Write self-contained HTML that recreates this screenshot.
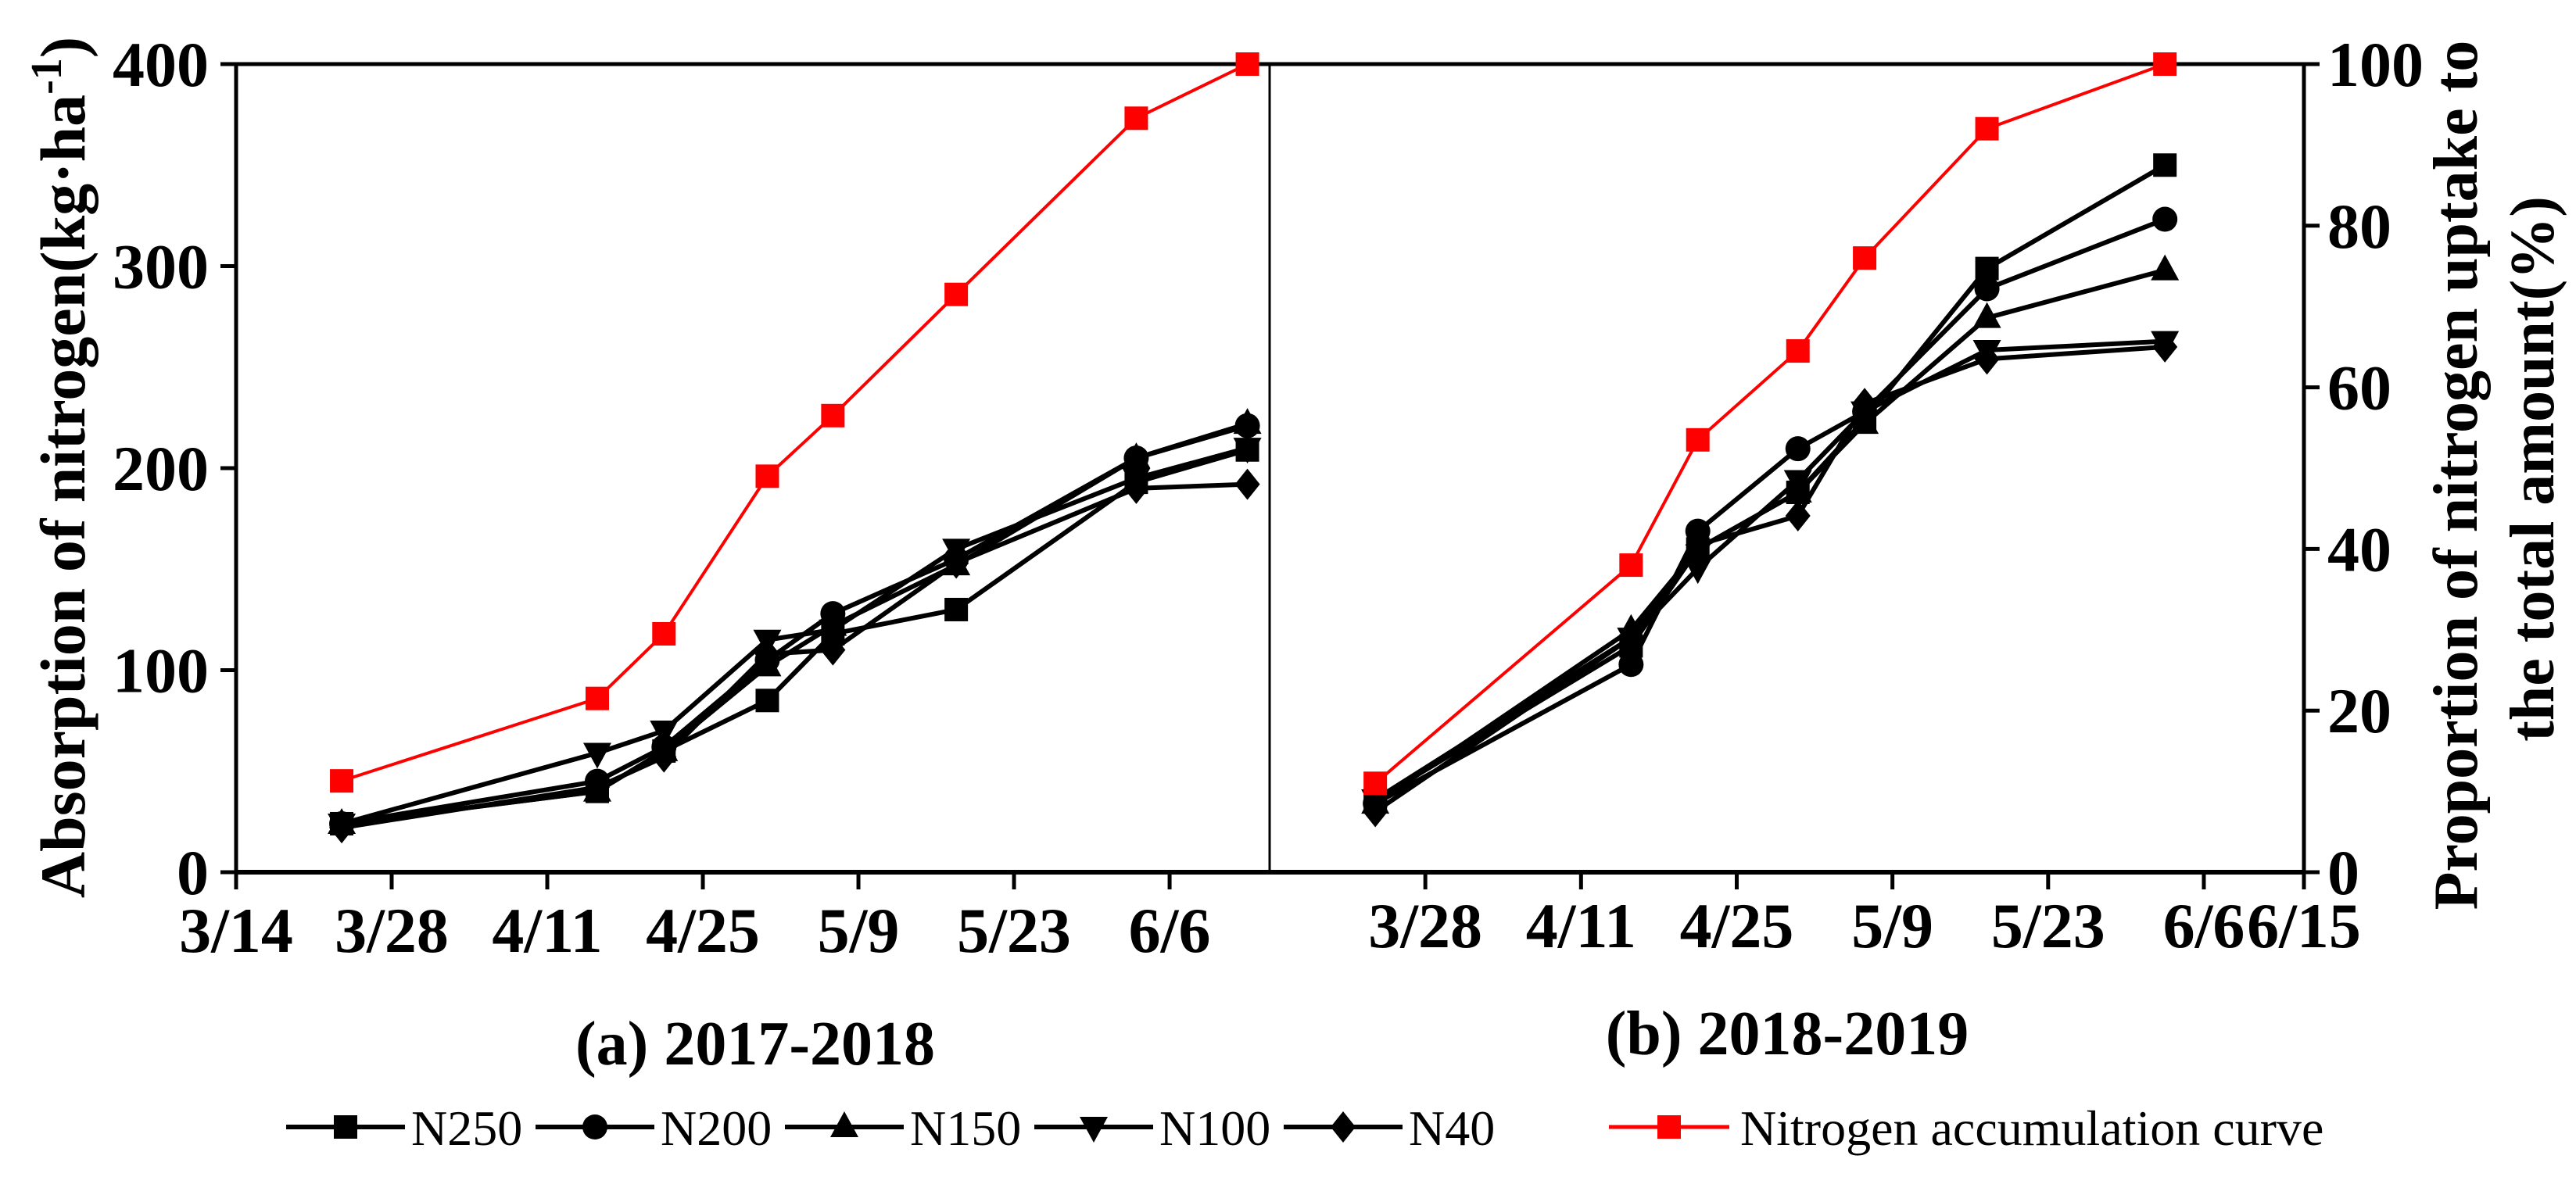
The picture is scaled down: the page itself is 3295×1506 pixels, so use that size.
<!DOCTYPE html>
<html><head><meta charset="utf-8"><style>
html,body{margin:0;padding:0;background:#fff}
svg{display:block;font-family:"Liberation Serif",serif}
</style></head><body>
<svg id="chart" width="3295" height="1506" viewBox="0 0 3295 1506" xmlns="http://www.w3.org/2000/svg">
<g id="frame"></g>
<g id="marks"></g>
<g id="labels"></g>
</svg>
<script>
// data (days since 3/14)
const xTickLabelsA = ["3/14","3/28","4/11","4/25","5/9","5/23","6/6"];
const xTickDaysA = [0,14,28,42,56,70,84];
const xTickLabelsB = ["3/28","4/11","4/25","5/9","5/23","6/6","6/15"];
const xTickDaysB = [14,28,42,56,70,84,93];
const yTicksLeft = [0,100,200,300,400];
const yTicksRight = [0,20,40,60,80,100];
const daysA = [9.5,32.5,38.5,47.8,53.7,64.8,81,91];
const daysB = [9.5,32.5,38.5,47.5,53.5,64.5,80.5];
const seriesNames = ["N250","N200","N150","N100","N40"];
const aN250 = [24,40,60,85,118,130,193,209];
const aN200 = [24,45,62,105,128,155,205,221];
const aN150 = [24,40,60,102,122,152,205,222];
const aN100 = [24,59,70,115,120,160,195,210];
const aN40  = [22,42,57,108,110,153,190,192];
const aRed  = [11.3,21.5,29.5,49,56.5,71.5,93.3,100];
const bN250 = [8.9,28,40,47,56,74.7,87.5];
const bN200 = [8.5,25.7,42.2,52.4,57,72.2,80.8];
const bN150 = [8.5,30,40,47,55.5,68.6,74.5];
const bN100 = [9,29,37.6,48.5,57,64.6,65.7];
const bN40  = [7.5,29,40.5,44.1,58,63.5,65];
const bRed  = [11,38,53.5,64.5,76,92,100];

const NS="http://www.w3.org/2000/svg";
const TOP=82, BOT=1116, AX0=302, DIV=1624, AX1=2947, DAYS=93;
function xA(d){return AX0+(DIV-AX0)*d/DAYS;}
function xB(d){return DIV+(AX1-DIV)*d/DAYS;}
function yL(v){return BOT-(BOT-TOP)*v/400;}
function yR(v){return BOT-(BOT-TOP)*v/100;}
function mk(tag,attrs,parent,text){const e=document.createElementNS(NS,tag);for(const k in attrs)e.setAttribute(k,attrs[k]);if(text!==undefined)e.textContent=text;parent.appendChild(e);return e;}
const frame=document.getElementById('frame'),marks=document.getElementById('marks'),labels=document.getElementById('labels');

// axes
let l;
l=mk('line',{x1:AX0,y1:TOP,x2:AX1,y2:TOP,stroke:'#000','stroke-width':5},frame);


l=mk('line',{x1:AX0,y1:BOT,x2:AX1,y2:BOT,stroke:'#000','stroke-width':6},frame);


l=mk('line',{x1:AX0,y1:TOP-2,x2:AX0,y2:BOT+3,stroke:'#000','stroke-width':5},frame);


l=mk('line',{x1:AX1,y1:TOP-2,x2:AX1,y2:BOT+3,stroke:'#000','stroke-width':5},frame);


l=mk('line',{x1:DIV,y1:TOP,x2:DIV,y2:BOT,stroke:'#000','stroke-width':3},frame);



yTicksLeft.forEach(v=>{
  const t=mk('line',{x1:AX0-20,y1:yL(v),x2:AX0,y2:yL(v),stroke:'#000','stroke-width':5},frame);
  
  
  const tx=mk('text',{x:AX0-35,y:yL(v)+28,'text-anchor':'end','font-size':82,'font-weight':'bold'},labels,String(v));
  
  
});
yTicksRight.forEach(v=>{
  const t=mk('line',{x1:AX1,y1:yR(v),x2:AX1+20,y2:yR(v),stroke:'#000','stroke-width':5},frame);
  
  
  const tx=mk('text',{x:AX1+30,y:yR(v)+28,'text-anchor':'start','font-size':82,'font-weight':'bold'},labels,String(v));
  
  
});
xTickDaysA.forEach((d,i)=>{
  const t=mk('line',{x1:xA(d),y1:BOT,x2:xA(d),y2:BOT+22,stroke:'#000','stroke-width':5},frame);
  
  
  const tx=mk('text',{x:xA(d),y:BOT+102,'text-anchor':'middle','font-size':82,'font-weight':'bold'},labels,xTickLabelsA[i]);
  
  
});
xTickDaysB.forEach((d,i)=>{
  const t=mk('line',{x1:xB(d),y1:BOT,x2:xB(d),y2:BOT+22,stroke:'#000','stroke-width':5},frame);
  
  
  const tx=mk('text',{x:xB(d),y:BOT+96,'text-anchor':'middle','font-size':82,'font-weight':'bold'},labels,xTickLabelsB[i]);
  
  
});

function marker(shape,cx,cy,color,parent){
  let e;
  if(shape==='square') e=mk('rect',{x:cx-15,y:cy-15,width:30,height:30,fill:color},parent);
  else if(shape==='circle') e=mk('ellipse',{cx:cx,cy:cy,rx:16,ry:16,fill:color},parent);
  else if(shape==='up') e=mk('polygon',{points:`${cx},${cy-20} ${cx+18},${cy+13} ${cx-18},${cy+13}`,fill:color},parent);
  else if(shape==='down') e=mk('polygon',{points:`${cx},${cy+20} ${cx+18},${cy-13} ${cx-18},${cy-13}`,fill:color},parent);
  else e=mk('polygon',{points:`${cx},${cy-20} ${cx+16},${cy} ${cx},${cy+20} ${cx-16},${cy}`,fill:color},parent);
  return e;
}
const shapes=['square','circle','up','down','diamond'];
function drawSeries(days,vals,xf,yf,shape,color,width,name){
  const g=mk('g',{},marks);
  
  
  const pts=days.map((d,i)=>xf(d)+','+yf(vals[i])).join(' ');
  const pl=mk('polyline',{points:pts,fill:'none',stroke:color,'stroke-width':width,'stroke-linejoin':'round'},g);
  
  
  days.forEach((d,i)=>{
    const m=marker(shape,xf(d),yf(vals[i]),color,g);
    
    
  });
}
const aSets=[aN250,aN200,aN150,aN100,aN40], bSets=[bN250,bN200,bN150,bN100,bN40];
aSets.forEach((s,i)=>drawSeries(daysA,s,xA,yL,shapes[i],'#000',6,'a-'+seriesNames[i].toLowerCase()));
bSets.forEach((s,i)=>drawSeries(daysB,s,xB,yR,shapes[i],'#000',6,'b-'+seriesNames[i].toLowerCase()));
drawSeries(daysA,aRed,xA,yR,'square','#ff0000',4,'a-accumulation-curve');
drawSeries(daysB,bRed,xB,yR,'square','#ff0000',4,'b-accumulation-curve');

// legend
const lg=mk('g',{},labels);


seriesNames.forEach((n,i)=>{
  const x0=366+i*319;
  const e=mk('g',{},lg);
  
  
  mk('line',{x1:x0,y1:1442,x2:x0+152,y2:1442,stroke:'#000','stroke-width':6},e);
  marker(shapes[i],x0+76,1442,'#000',e);
  mk('text',{x:x0+160,y:1465,'font-size':64},e,n);
});
const re=mk('g',{},lg);


mk('line',{x1:2058,y1:1442,x2:2212,y2:1442,stroke:'#ff0000','stroke-width':5},re);
marker('square',2135,1442,'#ff0000',re);
mk('text',{x:2226,y:1465,'font-size':64},re,'Nitrogen accumulation curve');
</script>
<svg style="position:absolute;left:0;top:0" width="3295" height="1506" xmlns="http://www.w3.org/2000/svg">
<text transform="translate(108,598) rotate(-90)" text-anchor="middle" font-family="Liberation Serif, serif" font-size="82" font-weight="bold">Absorption of nitrogen(kg·ha<tspan dy="-30" font-size="56">-1</tspan><tspan dy="30">)</tspan></text>
<text transform="translate(3168,608) rotate(-90)" text-anchor="middle" font-family="Liberation Serif, serif" font-size="80" font-weight="bold">Proportion of nitrogen uptake to</text>
<text transform="translate(3266,600) rotate(-90)" text-anchor="middle" font-family="Liberation Serif, serif" font-size="80" font-weight="bold">the total amount(%)</text>
<text x="966" y="1362" text-anchor="middle" font-family="Liberation Serif, serif" font-size="80" font-weight="bold">(a) 2017-2018</text>
<text x="2286" y="1349" text-anchor="middle" font-family="Liberation Serif, serif" font-size="80" font-weight="bold">(b) 2018-2019</text>
</svg>
</body></html>
